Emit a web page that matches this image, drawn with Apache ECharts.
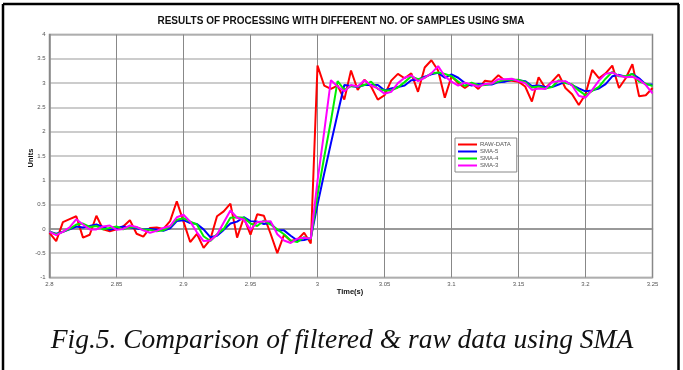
<!DOCTYPE html>
<html>
<head>
<meta charset="utf-8">
<script src="https://cdn.jsdelivr.net/npm/echarts@6/dist/echarts.min.js"></script>
<style>
html,body{margin:0;padding:0;background:#fff;}
#chart{width:683px;height:370px;}
</style>
</head>
<body>
<div id="chart"></div>
<script>
const times = [2.8,2.805,2.81,2.815,2.82,2.825,2.83,2.835,2.84,2.845,2.85,2.855,2.86,2.865,2.87,2.875,2.88,2.885,2.89,2.895,
2.9,2.905,2.91,2.915,2.92,2.925,2.93,2.935,2.94,2.945,2.95,2.955,2.96,2.965,2.97,2.975,2.98,2.985,2.99,2.995,
3.0,3.005,3.01,3.015,3.02,3.025,3.03,3.035,3.04,3.045,3.05,3.055,3.06,3.065,3.07,3.075,3.08,3.085,3.09,3.095,
3.1,3.105,3.11,3.115,3.12,3.125,3.13,3.135,3.14,3.145,3.15,3.155,3.16,3.165,3.17,3.175,3.18,3.185,3.19,3.195,
3.2,3.205,3.21,3.215,3.22,3.225,3.23,3.235,3.24,3.245,3.25];

const rawData = [-0.08,-0.25,0.14,0.20,0.26,-0.18,-0.12,0.27,-0.01,-0.05,-0.01,0.05,0.18,-0.10,-0.16,0.02,0.03,0.00,0.16,0.57,
0.15,-0.27,-0.10,-0.39,-0.22,0.26,0.36,0.52,-0.18,0.23,-0.12,0.30,0.27,-0.10,-0.50,-0.12,-0.25,-0.22,-0.08,-0.30,
3.36,2.95,2.88,2.95,2.66,3.26,2.86,3.07,2.93,2.66,2.75,3.05,3.19,3.10,3.20,2.82,3.32,3.47,3.26,2.70,
3.14,3.00,2.90,3.00,2.88,3.05,3.03,3.16,3.05,3.05,3.03,2.93,2.62,3.12,2.90,3.03,3.18,2.90,2.77,2.55,
2.77,3.27,3.10,3.20,3.36,2.90,3.10,3.39,2.73,2.75,2.90];

const sma5 = [-0.06,-0.10,-0.06,-0.01,0.05,0.03,0.06,0.09,0.04,-0.02,0.02,0.05,0.03,0.01,-0.01,0.00,-0.01,-0.04,0.01,0.16,
0.18,0.12,0.10,-0.01,-0.17,-0.14,-0.02,0.11,0.15,0.24,0.16,0.15,0.10,0.12,-0.03,-0.03,-0.14,-0.24,-0.23,-0.19,
0.50,1.14,1.76,2.37,2.96,2.94,2.92,2.96,2.96,2.96,2.85,2.89,2.92,2.95,3.06,3.07,3.13,3.18,3.21,3.11,
3.18,3.11,3.00,2.95,2.98,2.97,2.97,3.02,3.03,3.07,3.06,3.04,2.94,2.95,2.92,2.92,2.97,3.03,2.96,2.89,
2.83,2.85,2.89,2.98,3.14,3.17,3.13,3.19,3.10,2.97,2.97];

const sma4 = [-0.06,-0.11,-0.06,0.00,0.09,0.11,0.04,0.06,-0.01,0.02,0.05,-0.01,0.04,0.03,-0.01,-0.02,-0.05,-0.03,0.05,0.19,
0.22,0.15,0.09,-0.15,-0.25,-0.11,0.00,0.23,0.24,0.23,0.11,0.06,0.17,0.09,-0.01,-0.11,-0.24,-0.27,-0.17,-0.21,
0.69,1.48,2.22,3.04,2.86,2.94,2.93,2.96,3.03,2.88,2.85,2.85,2.91,3.02,3.14,3.08,3.11,3.20,3.22,3.19,
3.14,3.03,2.94,3.01,2.95,2.96,2.99,3.03,3.07,3.07,3.07,3.02,2.91,2.93,2.89,2.92,3.06,3.00,2.97,2.85,
2.75,2.84,2.92,3.09,3.23,3.14,3.14,3.19,3.03,2.99,2.94];

const sma3 = [-0.06,-0.13,-0.06,0.03,0.20,0.09,-0.01,-0.01,0.05,0.07,-0.02,0.00,0.07,0.04,-0.03,-0.08,-0.04,0.02,0.06,0.24,
0.29,0.15,-0.07,-0.25,-0.24,-0.12,0.13,0.38,0.23,0.19,-0.02,0.14,0.15,0.16,-0.11,-0.24,-0.29,-0.20,-0.18,-0.20,
0.99,2.00,3.06,2.93,2.83,2.96,2.93,3.06,2.95,2.89,2.78,2.82,3.00,3.11,3.16,3.04,3.11,3.20,3.35,3.14,
3.03,2.95,3.01,2.97,2.93,2.98,2.99,3.08,3.08,3.09,3.04,3.00,2.86,2.89,2.88,3.02,3.04,3.04,2.95,2.74,
2.70,2.86,3.05,3.19,3.22,3.15,3.12,3.13,3.07,2.96,2.79];

const seriesNames = ['RAW-DATA','SMA-5','SMA-4','SMA-3'];
const seriesColors = ['#ff0000','#0000ff','#00ee00','#ff00ff'];
const seriesValues = [rawData, sma5, sma4, sma3];

const chartTitle = 'RESULTS OF PROCESSING WITH DIFFERENT NO. OF SAMPLES USING SMA';
const xName = 'Time(s)';
const yName = 'Units';
const caption = 'Fig.5. Comparison of filtered & raw data using SMA';

const chart = echarts.init(document.getElementById('chart'), null, {renderer:'canvas'});

const series = seriesNames.map((n, si) => ({
  name: n,
  type: 'line',
  data: times.map((t, i) => [t, seriesValues[si][i]]),
  showSymbol: false,
  symbol: 'none',
  lineStyle: {color: seriesColors[si], width: 2},
  itemStyle: {color: seriesColors[si]},
  z: 3 + si,
  animation: false
}));

chart.setOption({
  animation: false,
  backgroundColor: '#fff',
  grid: {left: 49.5, right: 30.5, top: 34.5, bottom: 92.5, show: true, borderColor: '#888', borderWidth: 1.5},
  xAxis: {
    type: 'value', min: 2.8, max: 3.25, interval: 0.05,
    axisLine: {show: true, lineStyle: {color: '#888', width: 1.5}},
    axisTick: {show: false},
    axisLabel: {fontSize: 6, color: '#555', margin: 4, fontFamily: 'Liberation Sans',
      formatter: v => String(+v.toFixed(2))},
    splitLine: {show: true, lineStyle: {color: '#888', width: 1}}
  },
  yAxis: {
    type: 'value', min: -1, max: 4, interval: 0.5,
    axisLine: {show: true, lineStyle: {color: '#888', width: 1.5}},
    axisTick: {show: false},
    axisLabel: {fontSize: 6, color: '#555', margin: 4, fontFamily: 'Liberation Sans',
      formatter: v => String(+v.toFixed(2))},
    splitLine: {show: true, lineStyle: {color: '#bbb', width: 1.5}}
  },
  legend: {
    data: seriesNames, orient: 'vertical', left: 455, top: 138,
    icon: 'rect', itemWidth: 19, itemHeight: 2, itemGap: 0,
    padding: [3, 6, 3, 3],
    backgroundColor: '#fff', borderColor: '#888', borderWidth: 1,
    textStyle: {fontSize: 6, color: '#555', fontFamily: 'Liberation Sans', lineHeight: 7, padding: [0,0,0,-2]},
    selectedMode: false
  },
  graphic: [
    {type: 'text', x: 341, y: 21, style: {text: chartTitle, fontSize: 10, fontWeight: 'bold', fontFamily: 'Liberation Sans', fill: '#111', align: 'center', verticalAlign: 'middle'}, z: 10},
    {type: 'text', x: 350, y: 292, style: {text: xName, fontSize: 7.5, fontWeight: 'bold', fontFamily: 'Liberation Sans', fill: '#111', align: 'center', verticalAlign: 'middle'}},
    {type: 'text', x: 31, y: 158, rotation: Math.PI/2, style: {text: yName, fontSize: 7.5, fontWeight: 'bold', fontFamily: 'Liberation Sans', fill: '#111', align: 'center', verticalAlign: 'middle'}},
    {type: 'text', x: 342, y: 341, style: {text: caption, fontSize: 27.5, fontStyle: 'italic', fontFamily: 'Liberation Serif', fill: '#111', align: 'center', verticalAlign: 'middle'}},
    {type: 'line', shape: {x1: 3, y1: 4, x2: 679, y2: 4}, style: {stroke: '#000', lineWidth: 2.5}},
    {type: 'line', shape: {x1: 3, y1: 4, x2: 3, y2: 370}, style: {stroke: '#000', lineWidth: 2.5}},
    {type: 'line', shape: {x1: 678.5, y1: 4, x2: 678.5, y2: 370}, style: {stroke: '#000', lineWidth: 2.5}}
  ],
  series: series
});
</script>
</body>
</html>
